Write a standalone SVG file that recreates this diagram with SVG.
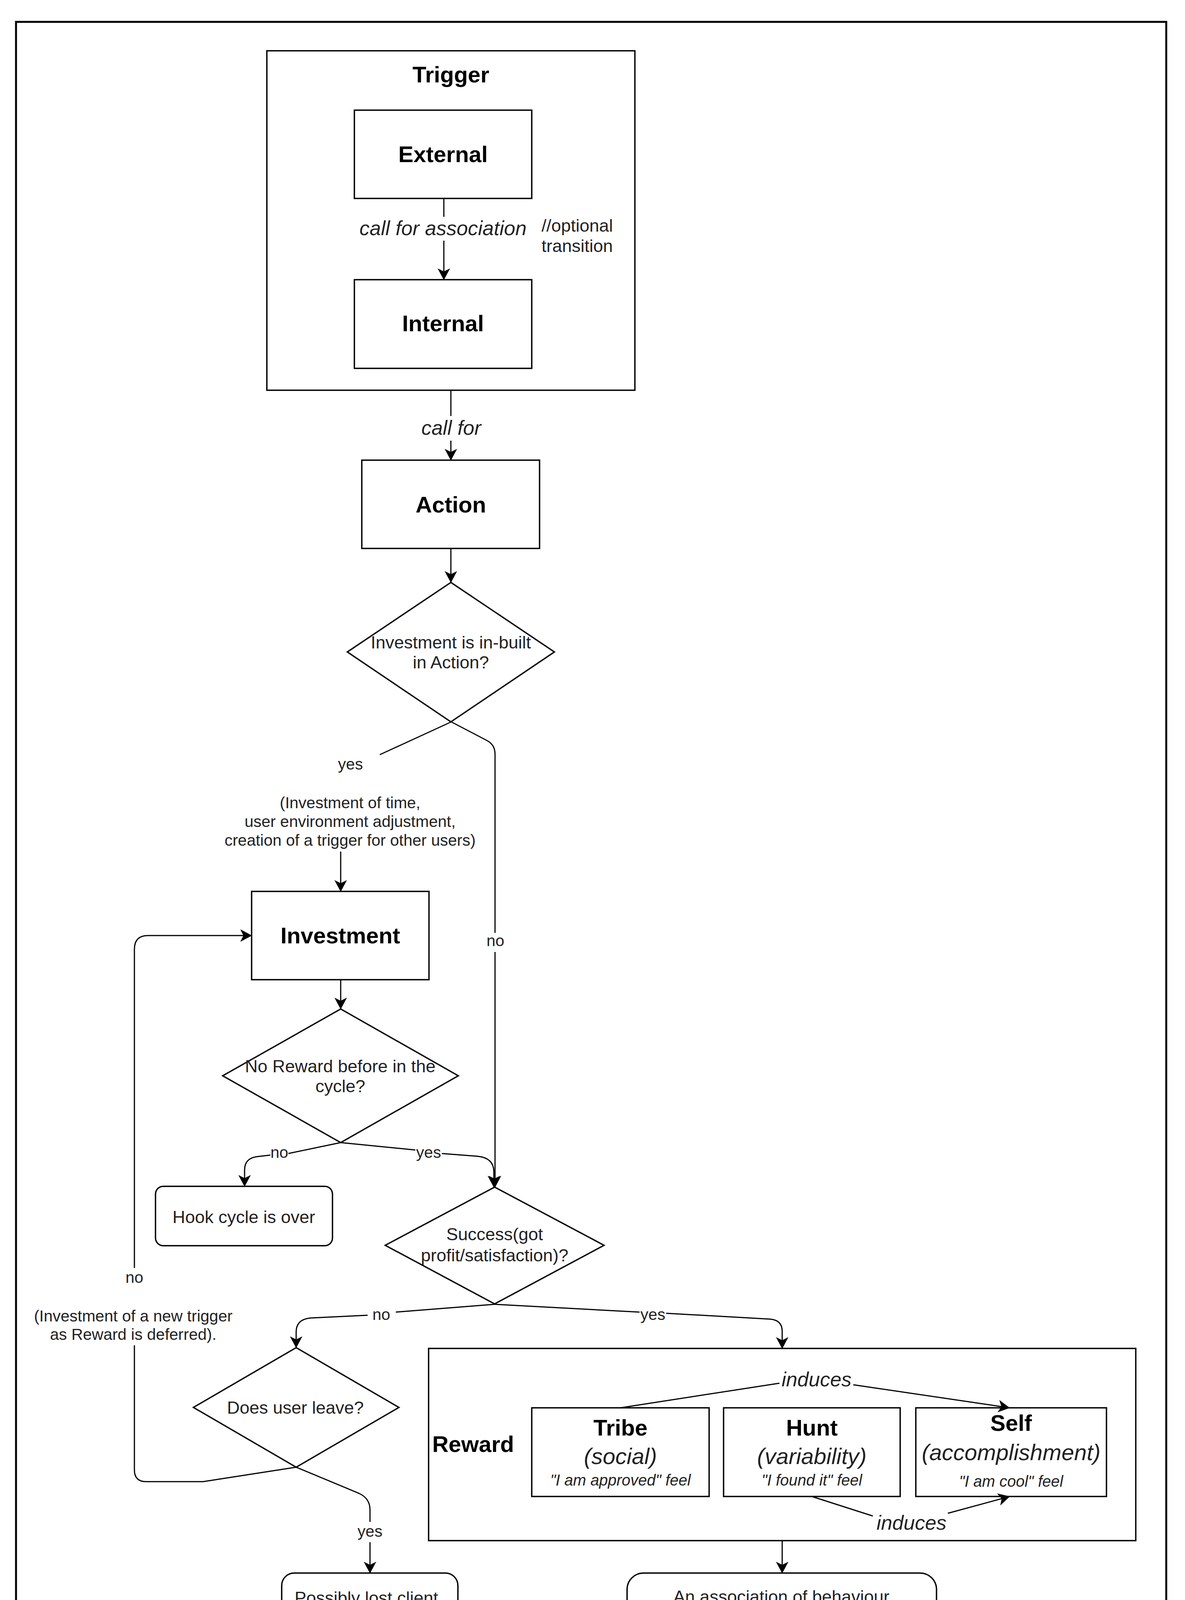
<svg xmlns="http://www.w3.org/2000/svg" width="3033" height="4430" viewBox="0 0 3033 4430">
<defs>
<style>
.box{fill:#fff;stroke:#000;stroke-width:3.5}
.ln{fill:none;stroke:#000;stroke-width:3}
.t{font-family:"Liberation Sans",Arial,sans-serif;text-anchor:middle;fill:#000}
.b{font-weight:bold;font-size:58px}
.n{font-size:45px;fill:#222}
.e{font-size:41px;fill:#222}
.i{font-style:italic;font-size:52px;fill:#222}
.si{font-style:italic;font-size:58px;fill:#222}
.f{font-style:italic;font-size:40px;fill:#222}
</style>
<marker id="arr" markerUnits="userSpaceOnUse" markerWidth="30" markerHeight="32" viewBox="0 0 30 32" refX="29" refY="16" orient="auto">
<path d="M0,0 L30,16 L0,32 L8,16 Z" fill="#000"/>
</marker>
</defs>
<rect x="0" y="0" width="3033" height="4430" fill="#fff"/>
<rect id="frame" x="41" y="56" width="2944" height="4341" fill="none" stroke="#000" stroke-width="5"/>

<g id="trigger">
<rect class="box" x="683" y="130" width="942" height="869"/>
<text class="t b" x="1154" y="211">Trigger</text>
</g>
<g id="external">
<rect class="box" x="907" y="282" width="454" height="226"/>
<text class="t b" x="1134" y="415">External</text>
</g>
<g id="internal">
<rect class="box" x="907" y="716" width="454" height="227"/>
<text class="t b" x="1134" y="848">Internal</text>
</g>
<g id="note-optional">
<text class="t n" style="text-anchor:start" x="1386" y="593">//optional</text>
<text class="t n" style="text-anchor:start" x="1386" y="645">transition</text>
</g>
<g id="action">
<rect class="box" x="926" y="1178" width="455" height="226"/>
<text class="t b" x="1154" y="1312">Action</text>
</g>
<g id="decision-inbuilt">
<polygon class="box" points="1154,1491 1419,1669 1154,1848 889,1669"/>
<text class="t n" x="1154" y="1660">Investment is in-built</text>
<text class="t n" x="1154" y="1711">in Action?</text>
</g>
<g id="investment">
<rect class="box" x="644" y="2282" width="454" height="226"/>
<text class="t b" x="871" y="2415">Investment</text>
</g>
<g id="decision-noreward">
<polygon class="box" points="872,2583 1173,2754 872,2925 570,2754"/>
<text class="t n" x="871" y="2745">No Reward before in the</text>
<text class="t n" x="871" y="2796">cycle?</text>
</g>
<g id="hook-over">
<rect class="box" x="398" y="3037" width="453" height="152" rx="20"/>
<text class="t n" x="624" y="3131">Hook cycle is over</text>
</g>
<g id="decision-success">
<polygon class="box" points="1266,3039 1546,3188 1266,3338 986,3188"/>
<text class="t n" x="1266" y="3175">Success(got</text>
<text class="t n" x="1266" y="3229">profit/satisfaction)?</text>
</g>
<g id="decision-leave">
<polygon class="box" points="758,3450 1021,3603 758,3756 495,3603"/>
<text class="t n" x="756" y="3619">Does user leave?</text>
</g>
<g id="lost-client">
<rect class="box" x="721" y="4027" width="451" height="230" rx="32"/>
<text class="t n" x="944" y="4106">Possibly lost client.</text>
<text class="t n" x="944" y="4157">Need to externally</text>
<text class="t n" x="944" y="4208">trigger him or her.</text>
</g>
<g id="reward">
<rect class="box" x="1097" y="3452" width="1810" height="492"/>
<text class="t b" x="1211" y="3717">Reward</text>
</g>
<g id="tribe">
<rect class="box" x="1361" y="3604" width="454" height="227"/>
<text class="t b" x="1588" y="3675">Tribe</text>
<text class="t si" x="1588" y="3748">(social)</text>
<text class="t f" x="1588" y="3803">"I am approved" feel</text>
</g>
<g id="hunt">
<rect class="box" x="1852" y="3604" width="452" height="227"/>
<text class="t b" x="2078" y="3675">Hunt</text>
<text class="t si" x="2078" y="3748">(variability)</text>
<text class="t f" x="2078" y="3803">"I found it" feel</text>
</g>
<g id="self">
<rect class="box" x="2344" y="3604" width="488" height="227"/>
<text class="t b" x="2588" y="3663">Self</text>
<text class="t si" x="2588" y="3738">(accomplishment)</text>
<text class="t f" x="2588" y="3806">"I am cool" feel</text>
</g>
<g id="association">
<rect class="box" x="1605" y="4027" width="792" height="330" rx="42"/>
<text class="t n" x="2000" y="4103">An association of behaviour</text>
<text class="t n" x="2000" y="4155">(path from Trigger to Reward through</text>
<text class="t n" x="2000" y="4207">Action) with getting Reward</text>
<text class="t n" x="2000" y="4259">is created.</text>
<text class="t n" x="2000" y="4311">Hook cycle is over.</text>
</g>

<g id="connectors">
<path class="ln" d="M1136,508 L1136,555"/>
<path class="ln" d="M1136,616 L1136,716" marker-end="url(#arr)"/>
<text class="t i" x="1134" y="602">call for association</text>

<path class="ln" d="M1154,999 L1154,1065"/>
<path class="ln" d="M1154,1128 L1154,1178" marker-end="url(#arr)"/>
<text class="t i" x="1155" y="1113">call for</text>

<path class="ln" d="M1154,1404 L1154,1491" marker-end="url(#arr)"/>

<path class="ln" d="M1155,1848 L972,1932"/>
<text class="t e" x="897" y="1970">yes</text>
<text class="t e" x="896" y="2069">(Investment of time,</text>
<text class="t e" x="896" y="2117">user environment adjustment,</text>
<text class="t e" x="896" y="2165">creation of a trigger for other users)</text>
<path class="ln" d="M872,2180 L872,2282" marker-end="url(#arr)"/>

<path class="ln" d="M1155,1848 L1245,1895 Q1267,1906 1267,1930 L1267,2388"/>
<text class="t e" x="1268" y="2422">no</text>
<path class="ln" d="M1267,2437 L1267,3039" marker-end="url(#arr)"/>

<path class="ln" d="M872,2508 L872,2583" marker-end="url(#arr)"/>

<path class="ln" d="M872,2925 L738,2953"/>
<text class="t e" x="715" y="2964">no</text>
<path class="ln" d="M692,2957 L658,2961 Q626,2965 626,2995 L626,3037" marker-end="url(#arr)"/>

<path class="ln" d="M872,2925 L1063,2944"/>
<text class="t e" x="1097" y="2964">yes</text>
<path class="ln" d="M1131,2953 L1222,2960 Q1264,2964 1264,3000 L1264,3039" marker-end="url(#arr)"/>

<path class="ln" d="M1266,3339 L1013,3359"/>
<text class="t e" x="976" y="3379">no</text>
<path class="ln" d="M941,3367 L796,3374 Q758,3377 758,3410 L758,3450" marker-end="url(#arr)"/>

<path class="ln" d="M1266,3339 L1637,3359"/>
<text class="t e" x="1671" y="3379">yes</text>
<path class="ln" d="M1705,3362 L1972,3377 Q2002,3380 2002,3408 L2002,3452" marker-end="url(#arr)"/>

<path class="ln" d="M758,3756 L919,3823 Q947,3836 947,3865 L947,3896"/>
<text class="t e" x="947" y="3934">yes</text>
<path class="ln" d="M947,3948 L947,4027" marker-end="url(#arr)"/>

<path class="ln" d="M758,3756 L520,3793 L374,3793 Q344,3793 344,3763 L344,3444"/>
<text class="t e" x="341" y="3383">(Investment of a new trigger</text>
<text class="t e" x="341" y="3430">as Reward is deferred).</text>
<text class="t e" x="344" y="3284">no</text>
<path class="ln" d="M344,3246 L344,2430 Q344,2395 379,2395 L644,2395" marker-end="url(#arr)"/>

<path class="ln" d="M2002,3944 L2002,4027" marker-end="url(#arr)"/>

<path class="ln" d="M1588,3604 L1995,3541"/>
<text class="t i" x="2090" y="3549">induces</text>
<path class="ln" d="M2184,3545 L2584,3604" marker-end="url(#arr)"/>

<path class="ln" d="M2078,3831 L2234,3881"/>
<text class="t i" x="2333" y="3916">induces</text>
<path class="ln" d="M2426,3874 L2584,3831" marker-end="url(#arr)"/>
</g>
</svg>
